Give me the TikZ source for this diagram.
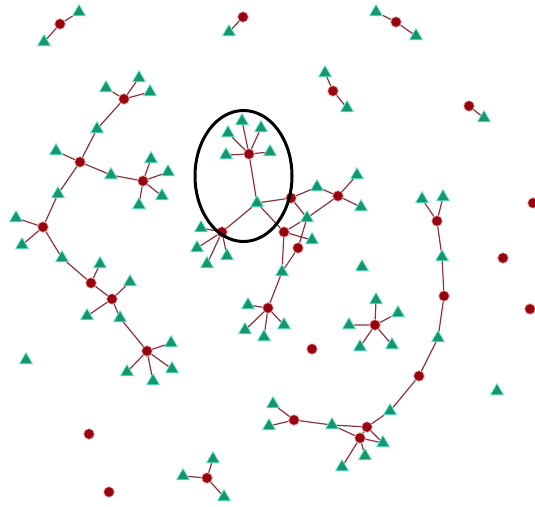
\documentclass[tikz,border=0pt]{standalone}
\usetikzlibrary{shapes.geometric,backgrounds}
\definecolor{rednode}{RGB}{150,5,15}
\definecolor{redglow}{RGB}{235,150,150}
\definecolor{trifill}{RGB}{20,150,112}
\definecolor{triglow}{RGB}{110,235,205}
\definecolor{edgecol}{RGB}{140,50,62}
\tikzset{
  rn/.style={circle,fill=rednode,draw=redglow,line width=0.6pt,inner sep=0pt,minimum size=10.5pt},
  tn/.style={regular polygon,regular polygon sides=3,fill=trifill,draw=triglow,line width=0.7pt,inner sep=0pt,minimum size=15pt},
  ed/.style={draw=edgecol,line width=1.2pt}
}
\begin{document}
\begin{tikzpicture}[x=1pt,y=-1pt]
\useasboundingbox (0,0) rectangle (535,506);
% small pairs
\node[rn] (r1) at (60,24) {}; \node[tn] (t1a) at (79,12) {}; \node[tn] (t1b) at (44,42) {};
\node[rn] (r2) at (243,17) {}; \node[tn] (t2) at (229,32) {};
\node[rn] (r3) at (396,22) {}; \node[tn] (t3a) at (376,12) {}; \node[tn] (t3b) at (416,36) {};
\node[rn] (r4) at (333,91) {}; \node[tn] (t4a) at (325,73) {}; \node[tn] (t4b) at (347,108) {};
\node[rn] (r5) at (469,106) {}; \node[tn] (t5) at (484,118) {};
% left tree
\node[rn] (rA) at (124,99) {};
\node[tn] (tA1) at (139,78) {}; \node[tn] (tA2) at (106,88) {}; \node[tn] (tA3) at (150,92) {};
\node[tn] (tAB) at (97,129) {};
\node[rn] (rB) at (80,162) {}; \node[tn] (tB1) at (56,151) {}; \node[tn] (tBC) at (111,175) {};
\node[rn] (rC) at (143,181) {};
\node[tn] (tC1) at (151,159) {}; \node[tn] (tC2) at (168,172) {}; \node[tn] (tC3) at (162,196) {}; \node[tn] (tC4) at (139,205) {};
\node[tn] (tBD) at (58,194) {};
\node[rn] (rD) at (43,227) {}; \node[tn] (tD1) at (16,218) {}; \node[tn] (tD2) at (22,245) {};
\node[tn] (tDG) at (62,258) {};
\node[rn] (rG1) at (91,283) {}; \node[tn] (tG1) at (100,264) {};
\node[rn] (rG2) at (112,299) {};
\node[tn] (tG2a) at (130,282) {}; \node[tn] (tG2b) at (87,316) {}; \node[tn] (tG2c) at (120,318) {};
\node[rn] (rG3) at (147,351) {};
\node[tn] (tG3a) at (171,343) {}; \node[tn] (tG3b) at (172,369) {}; \node[tn] (tG3c) at (153,381) {}; \node[tn] (tG3d) at (127,372) {};
% centre cluster
\node[rn] (rK) at (249,154) {};
\node[tn] (tK1) at (242,121) {}; \node[tn] (tK2) at (228,133) {}; \node[tn] (tK3) at (261,128) {};
\node[tn] (tK4) at (226,155) {}; \node[tn] (tK5) at (270,152) {};
\node[tn] (tM) at (257,203) {};
\node[rn] (rN) at (222,232) {};
\node[tn] (tN1) at (201,228) {}; \node[tn] (tN2) at (197,248) {}; \node[tn] (tN3) at (207,264) {}; \node[tn] (tN4) at (227,256) {};
\node[rn] (rP) at (291,198) {}; \node[tn] (tP) at (317,187) {};
\node[rn] (rE) at (338,196) {}; \node[tn] (tE1) at (357,175) {}; \node[tn] (tE2) at (361,207) {};
\node[tn] (tQ) at (307,218) {};
\node[rn] (rQ) at (284,232) {}; \node[tn] (tQ2) at (312,240) {};
\node[rn] (rS) at (298,248) {};
\node[tn] (tF0) at (282,272) {};
\node[rn] (rF) at (268,308) {};
\node[tn] (tF1) at (248,305) {}; \node[tn] (tF2) at (245,330) {}; \node[tn] (tF3) at (264,337) {}; \node[tn] (tF4) at (284,325) {};
% star
\node[rn] (rX) at (375,325) {};
\node[tn] (tX1) at (376,300) {}; \node[tn] (tX2) at (398,313) {}; \node[tn] (tX3) at (349,325) {};
\node[tn] (tX4) at (360,347) {}; \node[tn] (tX5) at (392,345) {};
% isolated
\node[tn] (i1) at (362,267) {};
\node[rn] (i2) at (312,349) {};
\node[rn] (i3) at (503,258) {};
\node[rn] (i4) at (530,309) {};
\node[rn] (i5) at (533,203) {};
\node[tn] (i6) at (497,391) {};
\node[tn] (i7) at (26,360) {};
\node[rn] (i8) at (89,434) {};
\node[rn] (i9) at (109,492) {};
% bottom small star
\node[rn] (rH) at (207,478) {};
\node[tn] (tH1) at (213,459) {}; \node[tn] (tH2) at (183,476) {}; \node[tn] (tH3) at (224,497) {};
% right chain
\node[tn] (tR1) at (422,199) {}; \node[tn] (tR2) at (443,197) {};
\node[rn] (rR1) at (437,221) {};
\node[tn] (tR3) at (442,257) {};
\node[rn] (rR2) at (444,296) {};
\node[tn] (tR4) at (438,338) {};
\node[rn] (rR3) at (419,376) {};
\node[tn] (tR5) at (390,411) {};
\node[rn] (rU1) at (367,427) {};
\node[rn] (rU2) at (360,438) {};
\node[tn] (tU1) at (383,443) {}; \node[tn] (tU2) at (365,456) {}; \node[tn] (tU3) at (342,467) {};
\node[tn] (tU4) at (332,425) {};
\node[rn] (rJ) at (294,420) {};
\node[tn] (tJ1) at (273,404) {}; \node[tn] (tJ2) at (269,426) {};
% ellipse highlight
\node[draw=black,line width=3pt,ellipse,minimum width=97pt,minimum height=131pt,inner sep=0pt] (hl) at (243.5,176) {};
\begin{pgfonlayer}{background}
\path[ed] (r1)--(t1a) (r1)--(t1b) (r2)--(t2) (r3)--(t3a) (r3)--(t3b)
  (r4)--(t4a) (r4)--(t4b) (r5)--(t5);
\path[ed] (rA)--(tA1) (rA)--(tA2) (rA)--(tA3) (rA)--(tAB) (tAB)--(rB)
  (rB)--(tB1) (rB)--(tBC) (tBC)--(rC) (rC)--(tC1) (rC)--(tC2) (rC)--(tC3) (rC)--(tC4)
  (rB)--(tBD) (tBD)--(rD) (rD)--(tD1) (rD)--(tD2) (rD)--(tDG) (tDG)--(rG1)
  (rG1)--(tG1) (rG1)--(rG2) (rG2)--(tG2a) (rG2)--(tG2b) (rG2)--(tG2c) (tG2c)--(rG3)
  (rG3)--(tG3a) (rG3)--(tG3b) (rG3)--(tG3c) (rG3)--(tG3d);
\path[ed] (rK)--(tK1) (rK)--(tK2) (rK)--(tK3) (rK)--(tK4) (rK)--(tK5) (rK)--(tM)
  (tM)--(rN) (rN)--(tN1) (rN)--(tN2) (rN)--(tN3) (rN)--(tN4)
  (tM)--(rP) (tM)--(rQ) (rP)--(tP) (tP)--(rE) (rE)--(tE1) (rE)--(tE2)
  (rP)--(tQ) (tQ)--(rE) (rQ)--(tQ) (rQ)--(tQ2) (rS)--(tQ) (rS)--(tF0)
  (rQ)--(tF0) (tF0)--(rF) (rF)--(tF1) (rF)--(tF2) (rF)--(tF3) (rF)--(tF4);
\path[ed] (rX)--(tX1) (rX)--(tX2) (rX)--(tX3) (rX)--(tX4) (rX)--(tX5)
  (rH)--(tH1) (rH)--(tH2) (rH)--(tH3);
\path[ed] (rR1)--(tR1) (rR1)--(tR2) (rR1)--(tR3) (tR3)--(rR2) (rR2)--(tR4) (tR4)--(rR3)
  (rR3)--(tR5) (tR5)--(rU1) (rU1)--(rU2) (rU1)--(tU1) (rU2)--(tU1) (rU2)--(tU2) (rU2)--(tU3)
  (tU4)--(rU1) (tU4)--(rU2) (rJ)--(tU4) (rJ)--(tJ1) (rJ)--(tJ2);
\end{pgfonlayer}
\end{tikzpicture}
\end{document}
